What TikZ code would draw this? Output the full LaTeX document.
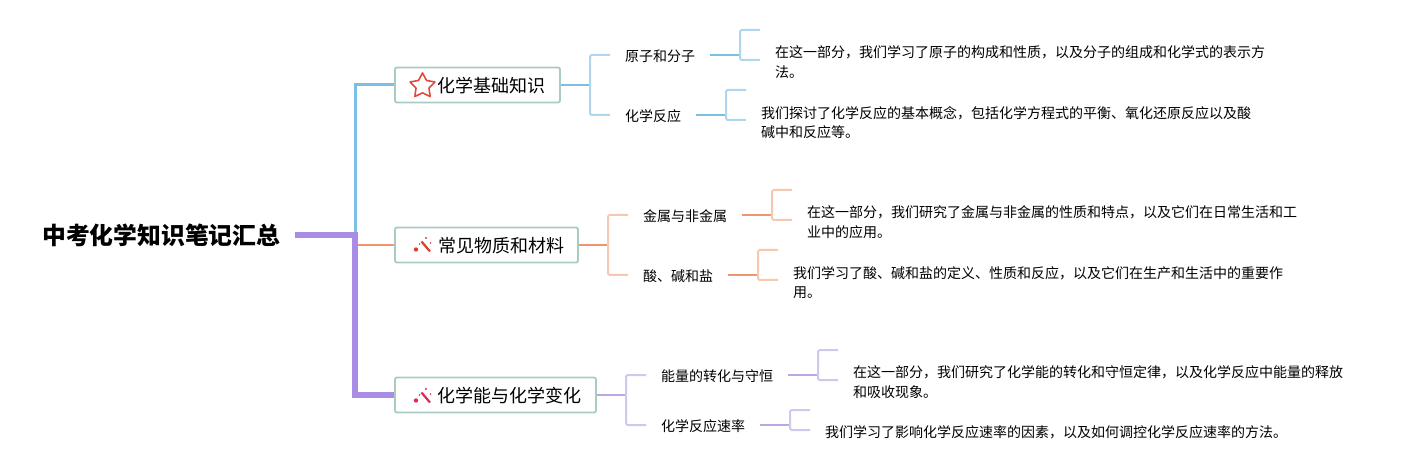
\documentclass[tikz,border=0pt]{standalone}
\usepackage{fontspec}
\setmainfont{Noto Sans CJK SC}
\usetikzlibrary{shapes.geometric}
\definecolor{boxedge}{HTML}{A9CBC1}
\definecolor{bluemain}{HTML}{7CBFE6}
\definecolor{bluelight}{HTML}{B0D6EE}
\definecolor{orangemain}{HTML}{F0956F}
\definecolor{orangelight}{HTML}{F5C8B2}
\definecolor{purplemain}{HTML}{A98CE6}
\definecolor{purplesub}{HTML}{BCA6E3}
\definecolor{purplelight}{HTML}{CFC8EC}
\definecolor{starred}{HTML}{E5493B}
\definecolor{wandred}{HTML}{D8412F}
\definecolor{wandpink}{HTML}{E0285A}
\tikzset{
  roottext/.style={inner xsep=14.5pt, inner ysep=0pt, text height=23pt, text depth=3pt, font=\fontsize{23.8}{28}\selectfont\bfseries},
  topicbox/.style={draw=boxedge, line width=1.8pt, rounded corners=2pt, fill=white, minimum height=35pt, inner sep=0pt, text height=18pt, text depth=2.2pt, font=\fontsize{18}{22}\selectfont},
  leaftext/.style={inner xsep=15pt, inner ysep=0pt, text height=15.3pt, text depth=1.7pt, font=\fontsize{14}{17}\selectfont},
  detailtext/.style={anchor=west, align=left, inner xsep=15pt, inner ysep=0pt, font=\fontsize{14}{19.6}\selectfont},
  branchline/.style={line width=2pt},
  elbowline/.style={line width=2pt, rounded corners=1.5pt},
  wand/.pic={
    \draw[line width=2.2pt, #1] (-1.5,-3.5) -- (7,6.5);
    \fill[#1] (3,-7) circle (1.2);
    \fill[#1] (-7,4.5) circle (2.2);
    \fill[#1] (7.5,-2) circle (0.9);
    \fill[#1] (-3.5,-1) circle (0.9);
  }
}
\begin{document}
\begin{tikzpicture}[x=1pt,y=-1pt]
\useasboundingbox (0,0) rectangle (1413,470);
\node[roottext, anchor=east] (root) at (295,235) {中考化学知识笔记汇总};
\coordinate (trunk) at (355,235);

\node[topicbox, minimum width=165pt] (basics) at (477.5,85) {\hspace*{27pt}化学基础知识};
\node[topicbox, minimum width=183pt] (materials) at (486.5,245) {\hspace*{29pt}常见物质和材料};
\node[topicbox, minimum width=201pt] (energy) at (495.5,395) {\hspace*{27pt}化学能与化学变化};

\node[star, star points=5, star point ratio=1.9, draw=starred, line width=1.6pt, line join=round, inner sep=0pt, minimum size=26pt] (staricon) at (422.5,86) {};
\pic at (423,245) {wand=wandred};
\pic at (423,396) {wand=wandpink};

\draw[line width=3pt, bluemain] (trunk) |- (basics.west);
\draw[branchline, orangemain] (trunk) |- (materials.west);
\draw[line width=6pt, purplemain] (root.east) -- (trunk) |- (energy.west);

\node[leaftext, anchor=west] (atoms) at (610,55) {原子和分子};
\node[leaftext, anchor=west] (reaction) at (610,115) {化学反应};
\node[leaftext, anchor=west] (metals) at (628,215) {金属与非金属};
\node[leaftext, anchor=west] (acids) at (628,275) {酸、碱和盐};
\node[leaftext, anchor=west] (conserve) at (646,375) {能量的转化与守恒};
\node[leaftext, anchor=west] (rate) at (646,425) {化学反应速率};

\node[detailtext] (atomsnote) at (760,62) {在这一部分，我们学习了原子的构成和性质，以及分子的组成和化学式的表示方\\法。};
\node[detailtext] (reactionnote) at (746,122.5) {我们探讨了化学反应的基本概念，包括化学方程式的平衡、氧化还原反应以及酸\\碱中和反应等。};
\node[detailtext] (metalsnote) at (792,222) {在这一部分，我们研究了金属与非金属的性质和特点，以及它们在日常生活和工\\业中的应用。};
\node[detailtext] (acidsnote) at (778,282.5) {我们学习了酸、碱和盐的定义、性质和反应，以及它们在生产和生活中的重要作\\用。};
\node[detailtext] (conservenote) at (838,382) {在这一部分，我们研究了化学能的转化和守恒定律，以及化学反应中能量的释放\\和吸收现象。};
\node[detailtext] (ratenote) at (810,432) {我们学习了影响化学反应速率的因素，以及如何调控化学反应速率的方法。};

\coordinate (atomsfree) at (760,30);
\coordinate (reactionfree) at (746,90);
\coordinate (metalsfree) at (792,190);
\coordinate (acidsfree) at (778,250);
\coordinate (conservefree) at (838,350);
\coordinate (ratefree) at (810,410);

\draw[branchline, bluemain] (basics.east) -- (590,85);
\draw[elbowline, bluelight] (atoms.west) -- (590,55) -- (590,115) -- (reaction.west);
\draw[branchline, bluemain] (atoms.east) -- (740,55);
\draw[elbowline, bluelight] (atomsfree) -- (740,30) -- (740,60) -- ([yshift=2pt]atomsnote.west);
\draw[branchline, bluemain] (reaction.east) -- (726,115);
\draw[elbowline, bluelight] (reactionfree) -- (726,90) -- (726,120) -- ([yshift=2.5pt]reactionnote.west);

\draw[branchline, orangemain] (materials.east) -- (608,245);
\draw[elbowline, orangelight] (metals.west) -- (608,215) -- (608,275) -- (acids.west);
\draw[branchline, orangemain] (metals.east) -- (772,215);
\draw[elbowline, orangelight] (metalsfree) -- (772,190) -- (772,220) -- ([yshift=2pt]metalsnote.west);
\draw[branchline, orangemain] (acids.east) -- (758,275);
\draw[elbowline, orangelight] (acidsfree) -- (758,250) -- (758,280) -- ([yshift=2.5pt]acidsnote.west);

\draw[branchline, purplesub] (energy.east) -- (626,395);
\draw[elbowline, purplelight] (conserve.west) -- (626,375) -- (626,425) -- (rate.west);
\draw[branchline, purplesub] (conserve.east) -- (818,375);
\draw[elbowline, purplelight] (conservefree) -- (818,350) -- (818,380) -- ([yshift=2pt]conservenote.west);
\draw[branchline, purplesub] (rate.east) -- (790,425);
\draw[elbowline, purplelight] (ratefree) -- (790,410) -- (790,430) -- ([yshift=2pt]ratenote.west);
\end{tikzpicture}
\end{document}
